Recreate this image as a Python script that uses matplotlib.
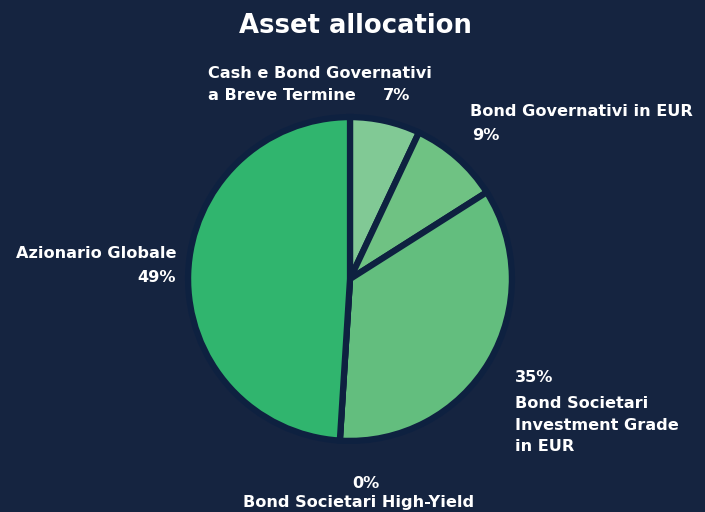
import matplotlib
matplotlib.use("Agg")
import matplotlib.pyplot as plt

categories = ["Cash e Bond Governativi\na Breve Termine", "Bond Governativi in EUR",
              "Bond Societari\nInvestment Grade\nin EUR", "Bond Societari High-Yield",
              "Azionario Globale"]
values = [7, 9, 35, 0, 49]
pct_labels = ["7%", "9%", "35%", "0%", "49%"]
colors = ["#81c995", "#6fc283", "#63be7e", "#5cbb7a", "#30b56e"]

BG = "#152440"
EDGE = "#0e2140"
W, H = 705, 512

fig = plt.figure(figsize=(W / 100, H / 100), dpi=100, facecolor=BG)
plt.rcParams['font.family'] = ['DejaVu Sans']

cx, cy, R = 350, 279, 170
ax = fig.add_axes([(cx - R) / W, (H - cy - R) / H, 2 * R / W, 2 * R / H])
ax.set_facecolor(BG)
ax.pie(values, colors=colors, startangle=90, counterclock=False, radius=1.0,
       wedgeprops=dict(edgecolor=EDGE, linewidth=4.5))
ax.set_xlim(-1.05, 1.05)
ax.set_ylim(-1.05, 1.05)
ax.set_aspect('equal')
ax.axis('off')

FS = 11.6

def ft(x, y, s, ha='left', va='center', size=FS, ls=1.3):
    fig.text(x / W, 1 - y / H, s, ha=ha, va=va, color='white', fontsize=size,
             fontweight='bold', linespacing=ls)

fig.text(355 / W, 1 - 26 / H, "Asset allocation", ha='center', va='center',
         color='white', fontsize=18.6, fontweight='bold')

# Cash (two lines drawn separately so the percentage sits beside line 2)
line1, line2 = categories[0].split("\n")
ft(208, 73, line1)
ft(208, 96, line2)
ft(383, 96, pct_labels[0])
# Bond gov EUR
ft(470, 112, categories[1])
ft(472, 136, pct_labels[1])
# 35%
ft(515, 377, pct_labels[2])
ft(515, 425, categories[2], ls=1.55)
# 0%
ft(366, 483, pct_labels[3], ha='center')
ft(359, 502, categories[3], ha='center')
# Azionario
ft(176, 253, categories[4], ha='right')
ft(176, 277, pct_labels[4], ha='right')

fig.savefig("out.png", dpi=100, facecolor=BG)
